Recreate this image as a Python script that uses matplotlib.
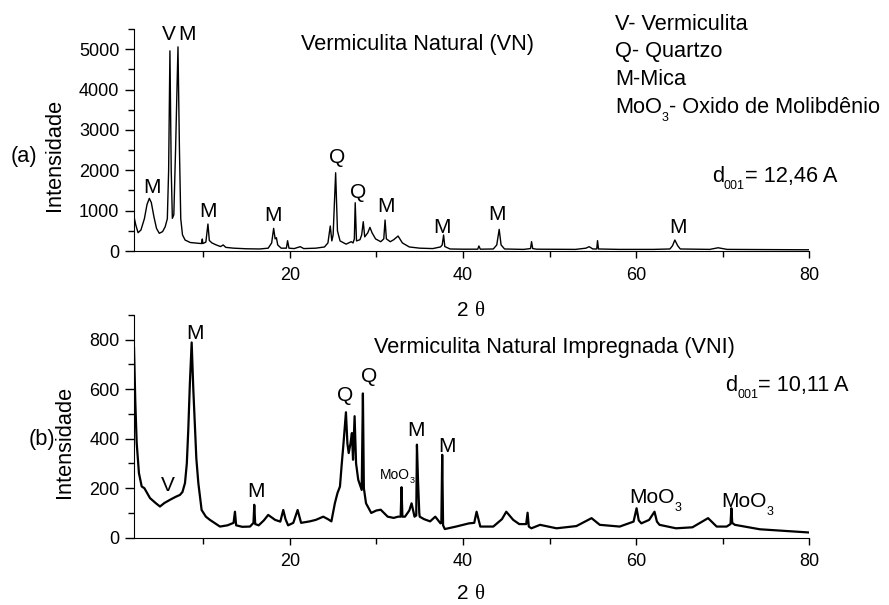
import matplotlib
matplotlib.use("Agg")
import numpy as np
from matplotlib import pyplot as plt
from matplotlib.ticker import MultipleLocator
from matplotlib.transforms import offset_copy

plt.rcParams['font.family'] = ['Liberation Sans', 'DejaVu Sans']

# (a) Vermiculita Natural - 2theta / intensity
vn_theta = [2.0, 2.2, 2.47, 2.8, 3.2, 3.5, 3.77, 4.0, 4.3, 4.6, 4.92, 5.3, 5.6, 5.85,
            6.0, 6.15, 6.3, 6.43, 6.6, 6.8, 7.08, 7.25, 7.4, 7.6, 7.9, 8.5, 9.5, 9.8,
            9.89, 9.95, 10.3, 10.54, 10.7, 11.0, 11.5, 12.0, 12.3, 12.6, 13.5, 15.0,
            16.5, 17.5, 17.9, 18.13, 18.3, 18.45, 18.6, 19.0, 19.6, 19.74, 19.9, 20.5,
            21.2, 21.6, 23.0, 24.0, 24.4, 24.67, 24.85, 25.0, 25.29, 25.5, 25.8, 26.5,
            27.1, 27.3, 27.45, 27.55, 27.7, 28.1, 28.3, 28.48, 28.65, 29.0, 29.25, 29.5,
            29.9, 30.5, 30.85, 31.0, 31.15, 31.6, 32.0, 32.5, 33.0, 33.8, 35.0, 36.5,
            37.4, 37.6, 37.76, 37.9, 38.5, 40.0, 41.7, 41.84, 42.0, 43.5, 43.9, 44.18,
            44.4, 44.8, 47.0, 47.8, 47.92, 48.05, 48.5, 53.0, 54.2, 54.57, 55.0, 55.45,
            55.54, 55.65, 58.0, 62.0, 63.9, 64.2, 64.47, 64.8, 65.1, 68.5, 69.47, 70.5,
            75.0, 80.0]
vn_int = [850, 650, 453, 520, 800, 1150, 1304, 1200, 850, 560, 438, 480, 600, 800,
          2000, 4958, 2000, 809, 900, 2500, 5057, 2500, 800, 400, 272, 210, 190, 185,
          297, 185, 220, 668, 260, 200, 150, 110, 150, 90, 70, 55,
          50, 70, 200, 561, 300, 330, 150, 70, 70, 255, 70, 60,
          107, 60, 70, 100, 200, 619, 250, 400, 1938, 500, 250, 170,
          231, 200, 300, 1196, 250, 280, 400, 726, 350, 450, 586, 450,
          300, 230, 300, 767, 300, 230, 280, 371, 200, 100, 70, 60,
          100, 150, 396, 110, 50, 45, 45, 124, 45, 50, 150, 536,
          150, 50, 40, 60, 231, 60, 45, 40, 70, 107, 50, 50,
          256, 50, 40, 40, 50, 130, 272, 130, 50, 40, 80, 40,
          35, 30]

# (b) Vermiculita Natural Impregnada
vni_theta = [2.0, 2.15, 2.31, 2.57, 2.89, 3.2, 3.85, 4.5, 5.0, 5.5, 6.15, 6.8, 7.31,
             7.6, 7.89, 8.1, 8.27, 8.45, 8.66, 8.85, 9.04, 9.2, 9.43, 9.81, 10.3, 10.77,
             11.5, 11.93, 12.8, 13.5, 13.66, 13.8, 14.5, 15.4, 15.8, 15.89, 16.0, 16.4,
             17.0, 17.5, 18.3, 18.9, 19.24, 19.5, 19.8, 20.4, 20.9, 21.3, 22.3, 23.0,
             23.86, 24.4, 24.8, 25.2, 25.5, 25.79, 26.0, 26.17, 26.48, 26.65, 26.8, 27.0,
             27.17, 27.3, 27.48, 27.65, 27.9, 28.3, 28.44, 28.55, 28.8, 29.4, 30.0, 30.5,
             31.3, 32.0, 32.5, 32.8, 32.9, 33.0, 33.3, 33.8, 34.06, 34.4, 34.6, 34.68,
             34.8, 34.95, 35.0, 35.5, 36.2, 36.8, 37.4, 37.5, 37.6, 37.7, 37.9, 39.2,
             40.7, 41.3, 41.57, 42.0, 43.5, 44.5, 45.0, 45.8, 46.5, 47.3, 47.46, 47.6,
             47.9, 48.9, 50.8, 53.1, 54.85, 55.8, 58.1, 59.7, 60.05, 60.3, 60.6, 61.5,
             62.12, 62.4, 62.7, 64.6, 66.5, 68.31, 69.3, 70.45, 70.9, 71.0, 71.1, 71.4,
             74.3, 78.2, 80.0]
vni_int = [768, 550, 383, 261, 207, 200, 160, 140, 126, 140, 153, 165, 173,
           185, 221, 300, 437, 620, 789, 600, 450, 320, 221, 112, 85, 72,
           55, 45, 50, 60, 105, 50, 44, 45, 60, 133, 55, 50,
           70, 92, 72, 65, 112, 75, 50, 60, 112, 60, 66, 72,
           85, 75, 66, 139, 180, 207, 300, 369, 507, 380, 342, 380,
           423, 315, 491, 300, 234, 193, 583, 200, 139, 100, 110, 113,
           85, 80, 85, 85, 204, 85, 85, 110, 139, 85, 90, 376,
           237, 100, 85, 75, 66, 85, 58, 60, 335, 50, 35, 45,
           58, 60, 105, 45, 45, 75, 105, 72, 55, 55, 101, 45,
           38, 52, 38, 47, 79, 52, 45, 65, 119, 70, 58, 72,
           105, 65, 52, 38, 42, 79, 45, 45, 55, 119, 60, 52,
           34, 25, 21]

# peak labels: text, 2theta, baseline intensity
vn_labels = [('M', 4.04, 1428), ('V', 6.04, 5222), ('M', 8.15, 5222), ('M', 10.5, 849),
             ('M', 18.0, 750), ('Q', 25.5, 2170), ('Q', 27.9, 1304), ('M', 31.06, 973),
             ('M', 37.6, 438), ('M', 43.9, 767), ('M', 64.8, 438)]
vni_labels = [('V', 5.96, 187), ('M', 9.04, 802), ('M', 16.05, 164), ('Q', 26.44, 552),
              ('Q', 29.17, 629), ('M', 34.56, 413), ('M', 38.1, 346)]
vni_moo3 = [(62.2, 140), (72.8, 123)]
vni_small_moo3 = (32.4, 237)

W, H = 889, 605
BIG = 15.7
SUB = 9


def style_axes(ax, ymax, ymajor, yminor):
    ax.set_xlim(2, 80)
    ax.set_ylim(0, ymax)
    ax.spines['top'].set_visible(False)
    ax.spines['right'].set_visible(False)
    ax.xaxis.set_major_locator(MultipleLocator(20))
    ax.xaxis.set_minor_locator(MultipleLocator(10))
    ax.yaxis.set_major_locator(MultipleLocator(ymajor))
    ax.yaxis.set_minor_locator(MultipleLocator(yminor))
    ax.tick_params(axis='y', which='major', length=6.5, width=1, labelsize=13, pad=4)
    ax.tick_params(axis='y', which='minor', length=4, width=1)
    ax.tick_params(axis='x', which='major', length=5.3, width=1, labelsize=13, pad=6)
    ax.tick_params(axis='x', which='minor', length=4, width=1)
    ax.set_xticks([20, 40, 60, 80])


def pieces(x, y, parts, transform, ha='left'):
    # parts: (string, fontsize, drop in px, family) written one after the other
    renderer = fig.canvas.get_renderer()
    widths = []
    for s, size, drop, fam in parts:
        t = fig.text(0, 0, s, fontsize=size, family=fam)
        widths.append(t.get_window_extent(renderer).width)
        t.remove()
    x0 = -sum(widths) / 2 if ha == 'center' else 0
    for (s, size, drop, fam), w in zip(parts, widths):
        tr = offset_copy(transform, fig=fig, x=x0, y=-drop, units='dots')
        fig.text(x, y, s, transform=tr, fontsize=size, family=fam,
                 ha='left', va='baseline')
        x0 += w


def fpos(px, py):
    return px / W, 1 - py / H


sans = ['Liberation Sans', 'DejaVu Sans']
serif = ['Liberation Serif', 'DejaVu Serif']

fig = plt.figure(figsize=(8.89, 6.05), dpi=100)
ax1 = fig.add_axes([134 / W, 1 - 251 / H, 675.3 / W, 222 / H])
ax2 = fig.add_axes([134 / W, 1 - 537.7 / H, 675.3 / W, 222.7 / H])

ax1.plot(vn_theta, vn_int, color='k', lw=1.0)
ax2.plot(vni_theta, vni_int, color='k', lw=1.6)
style_axes(ax1, 5500, 1000, 500)
style_axes(ax2, 900, 200, 100)

for s, x, y in vn_labels:
    ax1.text(x, y, s, ha='center', va='baseline', fontsize=15)
for s, x, y in vni_labels:
    ax2.text(x, y, s, ha='center', va='baseline', fontsize=15)
for x, y in vni_moo3:
    pieces(x, y, [('MoO', 15, 0, sans), ('3', SUB, 8, sans)], ax2.transData, ha='center')
x, y = vni_small_moo3
pieces(x, y, [('MoO', 10, 0, sans), ('3', 6.5, 4, sans)], ax2.transData, ha='center')

ft = fig.transFigure
fig.text(*fpos(417.7, 50), 'Vermiculita Natural (VN)', ha='center', va='baseline', fontsize=BIG)
fig.text(*fpos(554, 353.3), 'Vermiculita Natural Impregnada (VNI)', ha='center', va='baseline', fontsize=BIG)
fig.text(*fpos(615, 30), 'V- Vermiculita', ha='left', va='baseline', fontsize=BIG)
fig.text(*fpos(615, 57.3), 'Q- Quartzo', ha='left', va='baseline', fontsize=BIG)
fig.text(*fpos(615, 85), 'M-Mica', ha='left', va='baseline', fontsize=BIG)
pieces(*fpos(615, 113.3), [('MoO', BIG, 0, sans), ('3', SUB, 8, sans),
                           ('- Oxido de Molibdênio', BIG, 0, sans)], ft)
pieces(*fpos(711.7, 181.7), [('d', BIG, 0, sans), ('001', SUB, 7.5, sans),
                             ('= 12,46 A', BIG, 0, sans)], ft)
pieces(*fpos(725, 390.7), [('d', BIG, 0, sans), ('001', SUB, 7.5, sans),
                           ('= 10,11 A', BIG, 0, sans)], ft)

fig.text(*fpos(23.5, 156.7), '(a)', ha='center', va='center', fontsize=BIG)
fig.text(*fpos(41.7, 440), '(b)', ha='center', va='center', fontsize=BIG)
fig.text(*fpos(55, 155), 'Intensidade', ha='center', va='center', rotation=90, fontsize=BIG)
fig.text(*fpos(65, 441.7), 'Intensidade', ha='center', va='center', rotation=90, fontsize=BIG)
pieces(*fpos(471, 316), [('2 ', 15, 0, sans), ('θ', 15, 0, serif)], ft, ha='center')
pieces(*fpos(471, 599), [('2 ', 15, 0, sans), ('θ', 15, 0, serif)], ft, ha='center')

fig.savefig('out.png', dpi=100)
